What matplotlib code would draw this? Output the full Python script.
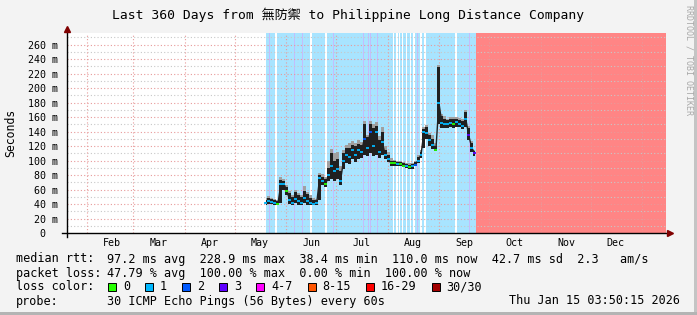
import numpy as np
import pandas as pd
import matplotlib
matplotlib.use("Agg")
import matplotlib.pyplot as plt
from matplotlib.patches import Rectangle
from matplotlib.lines import Line2D

# ---------------- data ----------------
title = "Last 360 Days from 無防禦 to Philippine Long Distance Company"
range_start = pd.Timestamp("2025-01-20 03:50:15")
range_days = 360
sample_times = pd.date_range("2025-05-19 18:00", periods=71, freq="43h")

median_ms = [42, 44, 43, 41, 40, 68, 68, 58, 45, 42, 47, 44, 42, 48, 44, 42, 40, 41,
             76, 72, 67, 80, 92, 85, 88, 72, 100, 108, 105, 115, 108, 115, 112, 130,
             118, 140, 120, 140, 112, 125, 108, 102, 96, 96, 95, 95, 93, 92, 91, 92,
             94, 100, 108, 140, 138, 128, 122, 115, 180, 152, 150, 150, 152, 150, 153,
             151, 148, 158, 135, 118, 110]
smoke_lo = [39, 40, 40, 38, 38, 42, 60, 52, 40, 39, 41, 39, 38, 41, 39, 38, 38, 38,
            45, 66, 63, 72, 74, 72, 74, 66, 88, 97, 95, 102, 98, 102, 104, 108,
            106, 110, 106, 108, 104, 108, 102, 98, 93, 93, 92, 92, 91, 90, 89, 89,
            92, 96, 104, 118, 130, 120, 116, 113, 150, 145, 145, 145, 146, 145, 147,
            146, 144, 146, 128, 112, 107]
smoke_hi = [46, 49, 47, 45, 44, 73, 72, 63, 55, 50, 56, 52, 50, 58, 54, 49, 46, 45,
            80, 78, 74, 90, 110, 100, 102, 86, 110, 118, 118, 122, 120, 123, 122, 150,
            132, 150, 145, 148, 128, 140, 115, 108, 100, 99, 98, 98, 96, 95, 94, 95,
            98, 105, 112, 144, 146, 135, 130, 120, 229, 162, 158, 156, 157, 157, 157,
            156, 155, 167, 145, 124, 113]
smoke_peak = [48, 51, 49, 47, 46, 77, 75, 66, 58, 53, 60, 55, 53, 65, 57, 52, 48, 47,
              83, 81, 78, 100, 116, 110, 112, 92, 114, 122, 124, 127, 124, 128, 126, 155,
              136, 155, 150, 153, 134, 146, 120, 112, 103, 101, 100, 100, 98, 97, 96, 97,
              100, 108, 115, 147, 149, 138, 135, 124, 232, 165, 162, 158, 160, 160, 160,
              159, 158, 170, 148, 127, 115]
loss_level = [1, 1, 1, 1, 0, 1, 1, 0, 1, 1, 1, 1, 1, 1, 1, 1, 1, 1,
              1, 1, 0, 1, 1, 1, 1, 1, 1, 1, 1, 1, 1, 1, 1, 2,
              1, 2, 1, 1, 1, 1, 1, 1, 0, 0, 1, 0, 0, 1, 0, 1,
              2, 1, 1, 1, 1, 1, 1, 0, 1, 1, 1, 1, 1, 0, 1,
              1, 1, 1, 3, 1, 3]

partial_loss_start = pd.Timestamp("2025-05-19 18:00")
outage_start = pd.Timestamp("2025-09-23 06:00")
no_loss_days = [125.6, 146.6, 155.7, 196.2, 198.3, 199.8, 201.6, 204.0, 206.4,
                208.5, 212.8, 215.2, 233.8]
loss3_days = [122.0, 137.0, 141.8, 159.9, 177.9, 181.5, 182.7, 186.9, 210.7, 242.2]

y_ticks = list(range(0, 261, 20))
month_labels = ["Feb", "Mar", "Apr", "May", "Jun", "Jul", "Aug", "Sep", "Oct", "Nov", "Dec"]

loss_names = ["0", "1", "2", "3", "4-7", "8-15", "16-29", "30/30"]
loss_colors = ["#26ff00", "#00b8ff", "#0059ff", "#5e00ff", "#ff00ff", "#ff5500", "#ff0000", "#a10000"]

stats_lines = [
    ("median rtt:", "97.2 ms avg  228.9 ms max  38.4 ms min  110.0 ms now  42.7 ms sd  2.3   am/s"),
    ("packet loss:", "47.79 % avg  100.00 % max  0.00 % min  100.00 % now"),
]
probe_text = "30 ICMP Echo Pings (56 Bytes) every 60s"
stamp_text = "Thu Jan 15 03:50:15 2026"

# ---------------- layout ----------------
W, H = 697, 315
MONO = "DejaVu Sans Mono"
fig = plt.figure(figsize=(W / 100, H / 100), dpi=100, facecolor="#f3f3f3")

def fx(x):
    return x / W

def fy(y):
    return 1 - y / H

L, R, T, B = 67, 666, 33, 233
ax = fig.add_axes([fx(L), fy(B), (R - L) / W, (B - T) / H])
ax.set_facecolor("white")
ax.set_xlim(0, range_days)
ax.set_ylim(0, 276.2)
for s in ax.spines.values():
    s.set_visible(False)

days = np.asarray((sample_times - range_start) / pd.Timedelta(days=1), dtype=float)
step = days[1] - days[0]
pl0 = (partial_loss_start - range_start) / pd.Timedelta(days=1)
out0 = (outage_start - range_start) / pd.Timedelta(days=1)

# loss background
ax.axvspan(pl0, out0, color="#a8e4ff", lw=0, zorder=0)
ax.axvspan(out0, range_days, color="#ff8585", lw=0, zorder=0)
for d in no_loss_days:
    ax.axvspan(d - 0.35, d + 0.35, color="white", lw=0, zorder=0.1)
for d in loss3_days:
    ax.axvspan(d - 0.3, d + 0.3, color="#c3bdfc", lw=0, zorder=0.1)

# grid
for v in range(10, 276, 10):
    if v % 20 == 0:
        ax.axhline(v, color="#e89a9a", lw=0.8, ls=(0, (1, 2)), zorder=1)
    else:
        ax.axhline(v, color="#c8c8c8", lw=0.8, ls=(0, (1, 2)), zorder=1)
month_starts = pd.date_range("2025-02-01", "2026-01-01", freq="MS")
mdays = np.asarray((month_starts - range_start) / pd.Timedelta(days=1), dtype=float)
for d in mdays:
    ax.axvline(d, color="#e89a9a", lw=0.8, ls=(0, (1, 2)), zorder=1)

# smoke and median
ax.fill_between(days, smoke_hi, smoke_peak, step="mid", color="#a0a0a0", lw=0, zorder=3)
ax.fill_between(days, smoke_lo, smoke_hi, step="mid", color="#202020", lw=0, zorder=4)
ax.plot(days, median_ms, color="#202020", lw=1.0, zorder=4.5)
ax.hlines(median_ms, days - step / 2, days + step / 2,
          colors=[loss_colors[k] for k in loss_level], lw=1.3, zorder=5)

# ticks
ax.set_yticks(y_ticks)
ax.set_yticklabels([f"{v} m" if v else "0  " for v in y_ticks], family=MONO, fontsize=7.2)
ax.set_xticks(mdays[:-1] + 15)
ax.set_xticklabels(month_labels, family=MONO, fontsize=7.2)
ax.tick_params(axis="y", length=0, pad=6.5)
ax.tick_params(axis="x", length=0, pad=3.5)

# axes lines and arrows
fig.add_artist(Line2D([fx(62), fx(668)], [fy(B), fy(B)], color="black", lw=1))
fig.add_artist(Line2D([fx(L), fx(L)], [fy(B + 4), fy(30)], color="black", lw=1))
fig.add_artist(Line2D([fx(670)], [fy(B)], marker=">", ms=4, color="#800000", lw=0))
fig.add_artist(Line2D([fx(L)], [fy(29)], marker="^", ms=4, color="#800000", lw=0))

# texts
fig.text(fx(348), fy(15), title, family=[MONO, "Noto Sans CJK TC"], fontsize=9.4,
         ha="center", va="center")
fig.text(fx(11), fy(133), "Seconds", family=MONO, fontsize=8.3, rotation=90,
         ha="center", va="center")
fig.text(fx(688.5), fy(60), "RRDTOOL / TOBI OETIKER", family=MONO, fontsize=6,
         rotation=270, ha="center", va="center", color="#a8a8a8")

ys = [259, 273]
for (lab, val), y in zip(stats_lines, ys):
    fig.text(fx(16), fy(y), lab, family=MONO, fontsize=8.5, va="center")
    fig.text(fx(107), fy(y), val, family=MONO, fontsize=8.5, va="center")

fig.text(fx(16), fy(287), "loss color:", family=MONO, fontsize=8.5, va="center")
x = 108
for name, col in zip(loss_names, loss_colors):
    fig.add_artist(Rectangle((fx(x), fy(291)), 8 / W, 8 / H, transform=fig.transFigure,
                             fc=col, ec="black", lw=0.7))
    fig.text(fx(x + 15), fy(287), name, family=MONO, fontsize=8.5, va="center")
    x = x + 15 + len(name) * 7.1 + 15

fig.text(fx(16), fy(301), "probe:", family=MONO, fontsize=8.5, va="center")
fig.text(fx(107), fy(301), probe_text, family=MONO, fontsize=8.5, va="center")
fig.text(fx(680), fy(301), stamp_text, family=MONO, fontsize=8.5, va="center", ha="right")

# frame
fig.add_artist(Rectangle((fx(694), 0), 3 / W, 1, transform=fig.transFigure, fc="#c4c4c4", ec="none"))
fig.add_artist(Rectangle((0, 0), 1, 3 / H, transform=fig.transFigure, fc="#b4b4b4", ec="none"))

fig.savefig("out.png", dpi=100, facecolor=fig.get_facecolor())
